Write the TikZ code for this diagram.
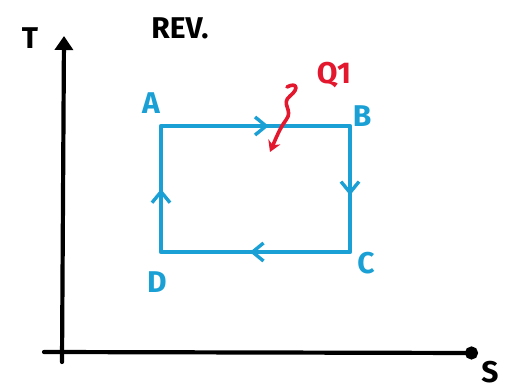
\documentclass[tikz,border=0pt]{standalone}
\usepackage{fontspec}
\setmainfont{Fira Sans}
\usetikzlibrary{arrows.meta,decorations.markings}
\definecolor{cyc}{HTML}{1AA0D4}
\definecolor{heat}{HTML}{E3172D}
\tikzset{
  axis/.style={line width=4.2pt,black,line cap=round},
  cycle/.style={line width=4.6pt,cyc,line join=round},
  midarrow/.style={postaction={decorate},decoration={markings,mark=at position #1 with {\arrow{Straight Barb[length=11pt,width=18pt,line width=3.4pt]}}}},
  lbl/.style={font=\fontsize{30}{30}\selectfont\bfseries},
}
\begin{document}
\begin{tikzpicture}[x=1pt,y=-1pt]
\useasboundingbox (0,0) rectangle (508,390);
% axes
\coordinate (ytop) at (64,36);
\coordinate (xend) at (478,353);
\coordinate (yb) at (62,362);
\coordinate (xb) at (44,352);
\draw[axis,-{Triangle[length=14pt,width=18pt]}] (yb) -- (ytop);
\draw[axis,-{Circle[length=13pt]}] (xb) -- (xend);
\node[lbl] (T) at (30,38) {T};
\node[lbl] (S) at (490,372) {S};
\node[lbl] (rev) at (180,28) {REV.};
% cycle
\coordinate (A) at (161,126);
\coordinate (B) at (350,126);
\coordinate (C) at (350,252);
\coordinate (D) at (161,252);
\draw[cycle] (A) -- (B) -- (C) -- (D) -- cycle;
\draw[cycle,midarrow=0.57] (A) -- (B);
\draw[cycle,midarrow=0.55] (B) -- (C);
\draw[cycle,midarrow=0.53] (C) -- (D);
\draw[cycle,midarrow=0.5] (D) -- (A);
\node[lbl,cyc] (lA) at (151,103) {A};
\node[lbl,cyc] (lB) at (362,116) {B};
\node[lbl,cyc] (lC) at (366,263) {C};
\node[lbl,cyc] (lD) at (157,282) {D};
% heat
\node[lbl,heat] (Q) at (334,75) {Q1};
\coordinate (qs) at (287,87);
\coordinate (qe) at (270,152);
\draw[heat,line width=3.6pt,line cap=round,line join=round,-{Stealth[length=11pt,width=13pt]}]
  (qs) .. controls (296,82) and (300,88) .. (290,96)
  .. controls (280,104) and (294,110) .. (286,120)
  .. controls (280,128) and (276,138) .. (qe);
\end{tikzpicture}
\end{document}
